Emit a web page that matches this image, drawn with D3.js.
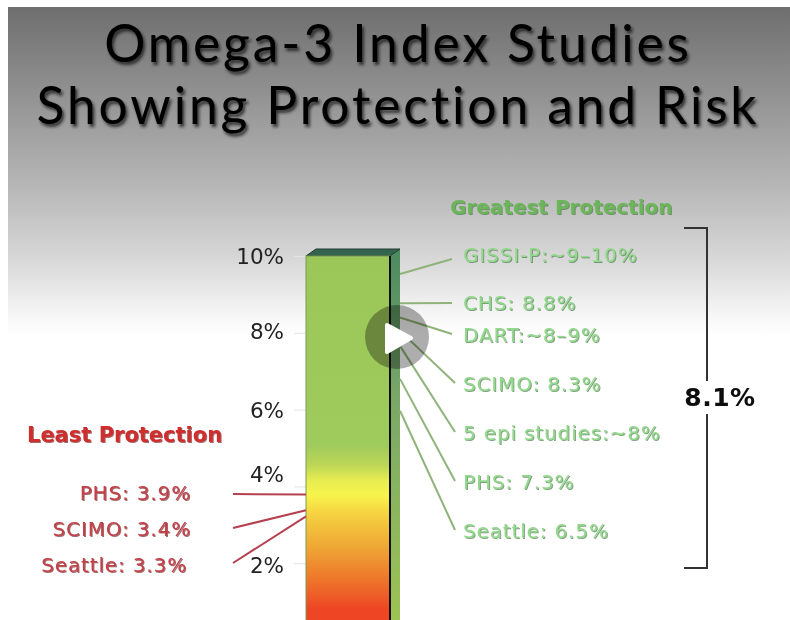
<!DOCTYPE html>
<html>
<head>
<meta charset="utf-8">
<script src="https://cdn.jsdelivr.net/npm/d3@7"></script>
<style>
  html, body { margin: 0; padding: 0; background: #fff; overflow: hidden; }
  text { font-family: "DejaVu Sans", sans-serif; }
  .title { font-family: Lato, "Noto Sans", sans-serif; font-size: 51.5px; letter-spacing: 2.9px; fill: #060606; }
  .head { font-weight: bold; font-size: 20px; }
  .study { font-size: 20px; letter-spacing: 0.85px; }
</style>
</head>
<body>
<div id="chart"></div>
<script>
// values as printed on the slide
const titleLines = ['Omega-3 Index Studies', 'Showing Protection and Risk'];
const axisTicks = [2, 4, 6, 8, 10];

const greatestLabels = ['GISSI-P:~9–10%', 'CHS: 8.8%', 'DART:~8–9%', 'SCIMO: 8.3%', '5 epi studies:~8%', 'PHS: 7.3%', 'Seattle: 6.5%'];
// where each leader line meets the bar, read against the axis
const greatestLevels = [9.53, 8.77, 8.4, 8.05, 7.66, 6.8, 5.97];

const leastLabels = ['PHS: 3.9%', 'SCIMO: 3.4%', 'Seattle: 3.3%'];
const leastLevels = [3.79, 3.38, 3.22];

const averageLabel = '8.1%';
const barTop = 10;

const width = 790;
const height = 620;

const y = d3.scaleLinear().domain([0, 10]).range([640, 256]);

const barLeft = 306, barRight = 390, depthX = 10, depthY = 7;

const svg = d3.select('#chart').append('svg')
  .attr('width', width)
  .attr('height', height)
  .style('display', 'block');

const defs = svg.append('defs');

function gradient(id, stops) {
  const g = defs.append('linearGradient')
    .attr('id', id)
    .attr('gradientUnits', 'userSpaceOnUse')
    .attr('x1', 0).attr('x2', 0)
    .attr('y1', 0).attr('y2', height);
  stops.forEach(s => g.append('stop').attr('offset', s[0] / height).attr('stop-color', s[1]));
}

gradient('bg', [[7, '#6e6e6e'], [90, '#909090'], [180, '#b4b4b4'], [260, '#d8d8d8'], [315, '#f6f6f6'], [335, '#ffffff']]);
gradient('barFront', [[256, '#9bc658'], [445, '#9fca5c'], [465, '#bcd656'], [480, '#e6ec50'], [495, '#f8f44c'], [515, '#f5d040'], [545, '#efaa35'], [577, '#ee7a2c'], [610, '#ee4524']]);
gradient('barSide', [[250, '#4c8a60'], [400, '#7aa867'], [620, '#9dc352']]);

const title = defs.append('filter').attr('id', 'titleShadow')
  .attr('x', '-5%').attr('y', '-20%').attr('width', '110%').attr('height', '140%');
title.append('feGaussianBlur').attr('in', 'SourceGraphic').attr('stdDeviation', 0.6).attr('result', 'soft');
title.append('feDropShadow').attr('in', 'soft').attr('dx', 2).attr('dy', 3).attr('stdDeviation', 1.8).attr('flood-color', '#1a1a1a').attr('flood-opacity', 0.8);

function labelFilter(id, color) {
  const f = defs.append('filter').attr('id', id)
    .attr('x', '-5%').attr('y', '-20%').attr('width', '110%').attr('height', '150%');
  f.append('feGaussianBlur').attr('in', 'SourceGraphic').attr('stdDeviation', 0.45).attr('result', 'soft');
  f.append('feDropShadow').attr('in', 'soft').attr('dx', 1).attr('dy', 1).attr('stdDeviation', 0.6).attr('flood-color', color).attr('flood-opacity', 0.7);
}
labelFilter('greenSoft', '#4d7a48');
labelFilter('redSoft', '#7d2a2a');

const soft = defs.append('filter').attr('id', 'soft');
soft.append('feGaussianBlur').attr('stdDeviation', 0.4);

// slide background, video frame leaves a white edge top and left
svg.append('rect')
  .attr('x', 8).attr('y', 7)
  .attr('width', width - 8).attr('height', height - 7)
  .attr('fill', 'url(#bg)');

svg.selectAll('.title')
  .data(titleLines)
  .enter()
  .append('text')
  .attr('class', 'title')
  .attr('x', 398)
  .attr('y', (d, i) => i ? 124 : 62)
  .attr('text-anchor', 'middle')
  .attr('filter', 'url(#titleShadow)')
  .text(d => d);

// axis, ticks only faintly visible on the slide
const axis = svg.append('g')
  .attr('transform', `translate(${barLeft},0)`)
  .call(d3.axisLeft(y).tickValues(axisTicks).tickSize(12).tickPadding(10).tickFormat(d => d + '%'));
axis.select('.domain').remove();
axis.selectAll('line').attr('stroke', '#e4e4e4').attr('stroke-width', 1);
axis.selectAll('text')
  .attr('fill', '#222')
  .attr('font-size', 21.5)
  .attr('filter', 'url(#soft)')
  .attr('dy', d => d === 4 ? '-0.25em' : d === 2 ? '0.42em' : d === 8 ? '0.28em' : '0.36em');

// bar, drawn from the scale and cut by the window at the bottom
svg.append('path')
  .attr('d', `M${barRight},${y(barTop)}L${barRight + depthX},${y(barTop) - depthY}L${barRight + depthX},${y(0)}L${barRight},${y(0)}Z`)
  .attr('fill', 'url(#barSide)');
svg.append('path')
  .attr('d', `M${barLeft},${y(barTop)}L${barLeft + depthX},${y(barTop) - depthY}L${barRight + depthX},${y(barTop) - depthY}L${barRight},${y(barTop)}Z`)
  .attr('fill', '#34634e')
  .attr('stroke', '#1f3d30')
  .attr('stroke-width', 1);
svg.append('rect')
  .attr('x', barLeft)
  .attr('y', y(barTop))
  .attr('width', barRight - barLeft)
  .attr('height', y(0) - y(barTop))
  .attr('fill', 'url(#barFront)')
  .attr('stroke', '#7f9a5a')
  .attr('stroke-width', 1);
svg.append('line')
  .attr('x1', barRight).attr('x2', barRight)
  .attr('y1', y(barTop)).attr('y2', y(0))
  .attr('stroke', '#111')
  .attr('stroke-width', 2);

// right side labels
const greatestY = [255, 303, 335, 384, 433, 482, 531];
const greatestEndX = [452, 452, 452, 455, 455, 455, 455];
const greatestEndY = [259, 303, 334, 383, 432, 481, 530];

svg.selectAll('.green-leader')
  .data(greatestLevels)
  .enter()
  .append('line')
  .attr('class', 'green-leader')
  .attr('x1', barRight + depthX)
  .attr('y1', d => y(d))
  .attr('x2', (d, i) => greatestEndX[i])
  .attr('y2', (d, i) => greatestEndY[i])
  .attr('stroke', '#8fb37a')
  .attr('stroke-width', 2);

svg.selectAll('.green-label')
  .data(greatestLabels)
  .enter()
  .append('text')
  .attr('class', 'study green-label')
  .attr('x', 463)
  .attr('y', (d, i) => greatestY[i])
  .attr('dy', '0.36em')
  .attr('fill', '#93d98d')
  .attr('filter', 'url(#greenSoft)')
  .text(d => d);

svg.append('text')
  .attr('class', 'head')
  .attr('x', 450)
  .attr('y', 207)
  .attr('dy', '0.36em')
  .attr('fill', '#6cb55a')
  .attr('filter', 'url(#greenSoft)')
  .text('Greatest Protection');

// left side labels
const leastY = [493, 529, 565];
const leastEndY = [494, 528, 563];
const leastRight = [191, 191, 187];

svg.selectAll('.red-leader')
  .data(leastLevels)
  .enter()
  .append('line')
  .attr('class', 'red-leader')
  .attr('x1', 233)
  .attr('y1', (d, i) => leastEndY[i])
  .attr('x2', barLeft)
  .attr('y2', d => y(d))
  .attr('stroke', '#b5404f')
  .attr('stroke-width', 2);

svg.selectAll('.red-label')
  .data(leastLabels)
  .enter()
  .append('text')
  .attr('class', 'study red-label')
  .attr('x', (d, i) => leastRight[i])
  .attr('y', (d, i) => leastY[i])
  .attr('dy', '0.36em')
  .attr('text-anchor', 'end')
  .attr('fill', '#c2404a')
  .attr('filter', 'url(#redSoft)')
  .text(d => d);

svg.append('text')
  .attr('class', 'head')
  .attr('x', 27)
  .attr('y', 434)
  .attr('dy', '0.36em')
  .attr('fill', '#cf2e2e')
  .attr('filter', 'url(#redSoft)')
  .style('font-size', '21px')
  .text('Least Protection');

// bracket around the high group
const bracket = d3.line();
svg.append('path')
  .attr('d', bracket([[684, 228], [707, 228], [707, 381]]))
  .attr('fill', 'none')
  .attr('stroke', '#333')
  .attr('stroke-width', 2);
svg.append('path')
  .attr('d', bracket([[707, 414], [707, 568], [684, 568]]))
  .attr('fill', 'none')
  .attr('stroke', '#333')
  .attr('stroke-width', 2);
svg.append('text')
  .attr('x', 720)
  .attr('y', 397)
  .attr('dy', '0.36em')
  .attr('text-anchor', 'middle')
  .attr('font-size', 25)
  .attr('letter-spacing', 0.5)
  .attr('font-weight', 'bold')
  .attr('fill', '#0a0a0a')
  .attr('filter', 'url(#soft)')
  .text(averageLabel);

// video play button over the slide
svg.append('circle')
  .attr('cx', 397).attr('cy', 337).attr('r', 32)
  .attr('fill', '#000')
  .attr('fill-opacity', 0.32);
svg.append('path')
  .attr('d', 'M387,325L411,338L387,352Z')
  .attr('fill', '#fff')
  .attr('stroke', '#fff')
  .attr('stroke-width', 4)
  .attr('stroke-linejoin', 'round');
</script>
</body>
</html>
